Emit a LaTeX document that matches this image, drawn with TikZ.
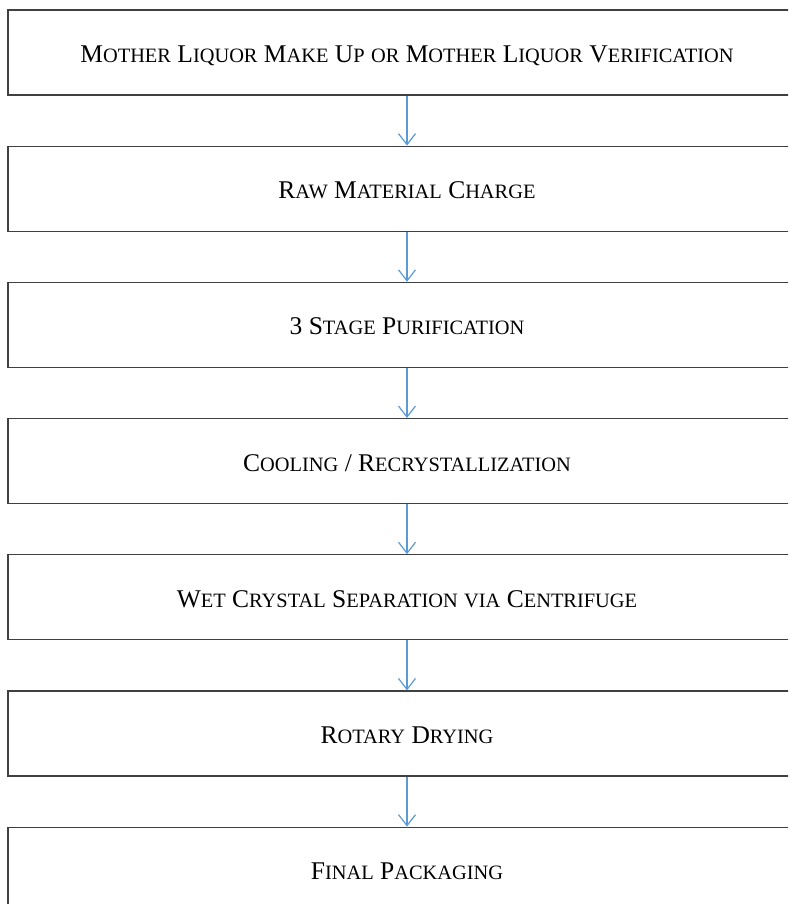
\documentclass[tikz,border=0pt]{standalone}
\usepackage{fontspec}
\setmainfont{Liberation Serif}
\usetikzlibrary{positioning,arrows.meta}
\definecolor{flowblue}{RGB}{91,155,213}
\definecolor{boxgray}{RGB}{64,64,64}
\newcommand\scsize{\fontsize{20.4pt}{23pt}\selectfont}
\newcommand\fsc[2]{#1{\scsize #2}}
\tikzset{
	stage/.style={draw=boxgray,line width=1.2pt,minimum width=798pt,minimum height=85pt,inner sep=0pt,text height=20pt,text depth=0pt,font=\fontsize{25.5pt}{29pt}\selectfont},
	flow/.style={draw=flowblue,line width=1.2pt,-{Straight Barb[length=11pt,width=17pt]}}
}
\begin{document}
\begin{tikzpicture}
	\path[use as bounding box,clip] (0,0) rectangle (788pt,-904pt);
	% process steps, top to bottom
	\node[stage] (liquor) at (407pt,-52.5pt) {\fsc{M}{OTHER} \fsc{L}{IQUOR} \fsc{M}{AKE} \fsc{U}{P} {\scsize OR} \fsc{M}{OTHER} \fsc{L}{IQUOR} \fsc{V}{ERIFICATION}};
	\node[stage,below=50pt of liquor] (charge) {\fsc{R}{AW} \fsc{M}{ATERIAL} \fsc{C}{HARGE}};
	\node[stage,below=50pt of charge] (purify) {3 \fsc{S}{TAGE} \fsc{P}{URIFICATION}};
	\node[stage,below=50pt of purify] (cooling) {\fsc{C}{OOLING} / \fsc{R}{ECRYSTALLIZATION}};
	\node[stage,below=50pt of cooling] (separate) {\fsc{W}{ET} \fsc{C}{RYSTAL} \fsc{S}{EPARATION} {\scsize VIA} \fsc{C}{ENTRIFUGE}};
	\node[stage,below=50pt of separate] (drying) {\fsc{R}{OTARY} \fsc{D}{RYING}};
	\node[stage,below=50pt of drying] (packing) {\fsc{F}{INAL} \fsc{P}{ACKAGING}};
	% arrows
	\draw[flow] (liquor) -- (charge);
	\draw[flow] (charge) -- (purify);
	\draw[flow] (purify) -- (cooling);
	\draw[flow] (cooling) -- (separate);
	\draw[flow] (separate) -- (drying);
	\draw[flow] (drying) -- (packing);
\end{tikzpicture}
\end{document}
